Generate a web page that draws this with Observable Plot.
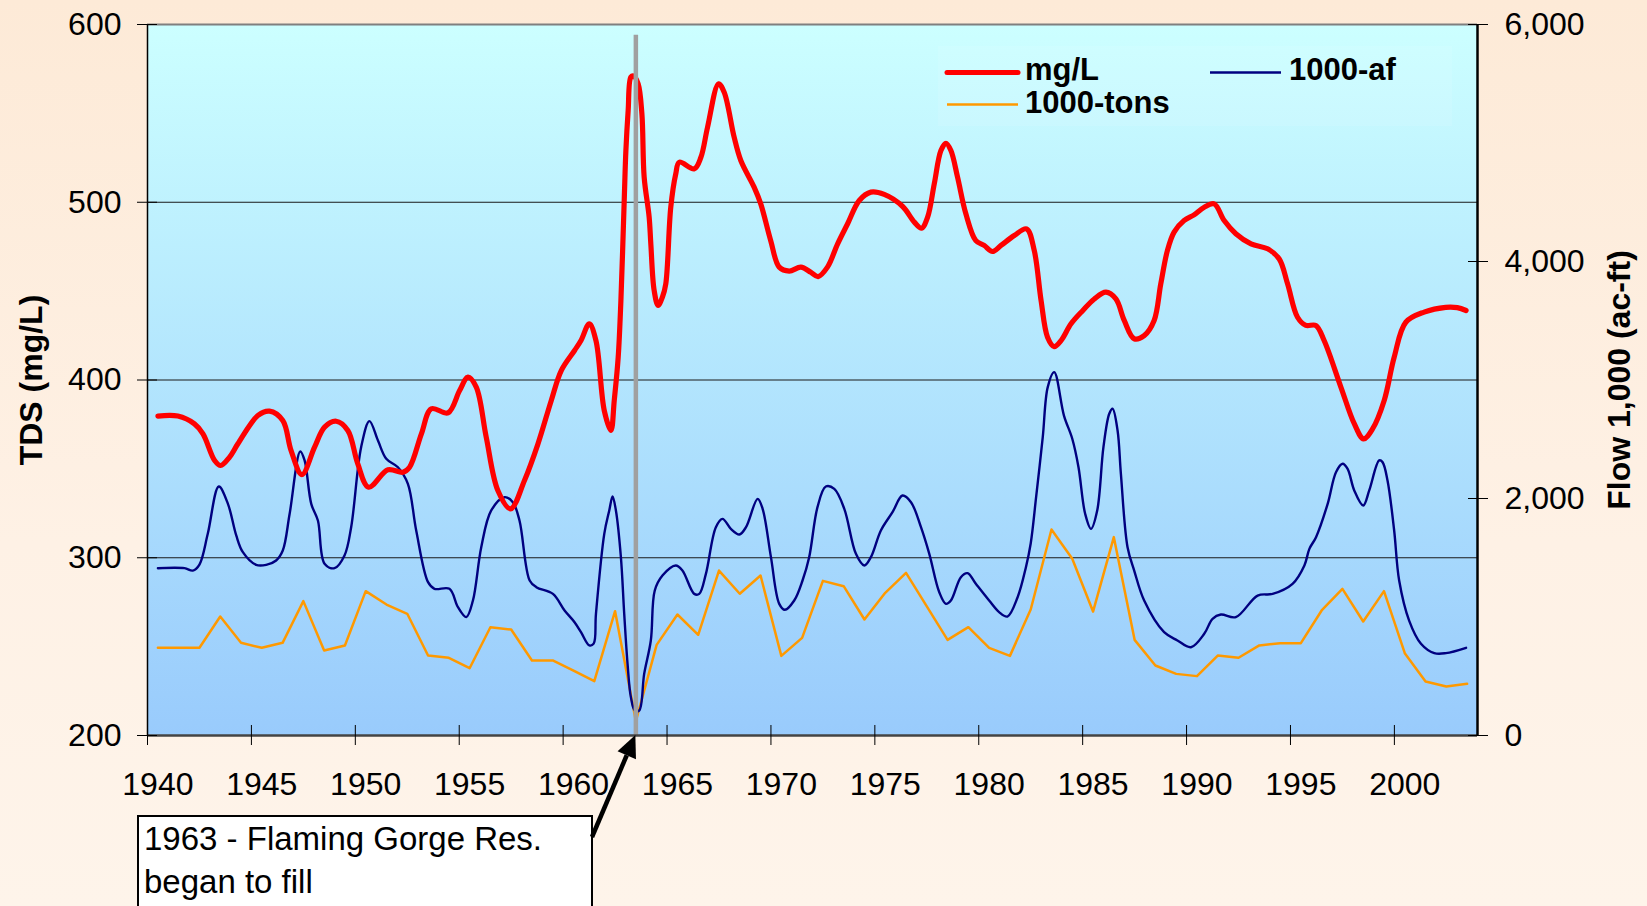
<!DOCTYPE html>
<html>
<head>
<meta charset="utf-8">
<script src="https://cdn.jsdelivr.net/npm/d3@7"></script>
<script src="https://cdn.jsdelivr.net/npm/@observablehq/plot@0.6"></script>
<style>
html, body { margin: 0; padding: 0; width: 1647px; height: 906px; overflow: hidden; }
body { background: linear-gradient(180deg, #FDEAD7 0%, #FEF1E5 60%, #FEF4EA 100%); font-family: "Liberation Sans", Arial, sans-serif; }
#wrap { position: relative; width: 1647px; height: 906px; }
#wrap svg { position: absolute; left: 0; top: 0; }
.note { position: absolute; left: 137px; top: 815px; width: 456px; height: 140px; background: #fff;
  border: 2px solid #000; box-sizing: border-box; font-size: 33px; line-height: 43px; padding: 0 0 0 5px; color: #000; }
</style>
</head>
<body>
<div id="wrap"></div>
<script>
// ---------- Data ----------
// TDS concentration (mg/L), smoothed series (fractional years)
const tdsYears = [1940.0,1940.96,1941.76,1942.17,1942.73,1943.02,1943.45,1943.85,1944.81,1945.37,1946.01,1946.41,1946.93,1947.54,1948.02,1948.58,1949.14,1949.62,1950.14,1951.07,1951.79,1952.11,1952.68,1953.16,1953.96,1954.52,1954.92,1955.32,1955.8,1956.36,1956.97,1957.64,1958.29,1958.93,1959.41,1960.05,1960.36,1960.76,1961.08,1961.48,1961.8,1961.96,1962.15,1962.28,1962.44,1962.52,1962.63,1962.76,1962.89,1963.11,1963.29,1963.4,1963.64,1963.72,1963.88,1964.07,1964.28,1964.44,1964.68,1964.92,1965.09,1965.81,1966.13,1966.45,1966.98,1967.25,1967.73,1968.05,1968.69,1969.01,1969.49,1969.9,1970.38,1970.94,1971.42,1971.77,1972.22,1972.71,1973.19,1973.75,1974.31,1974.95,1975.84,1976.4,1976.75,1977.04,1977.36,1977.68,1977.92,1978.16,1978.48,1978.88,1979.36,1979.76,1980.16,1980.57,1981.21,1981.8,1982.17,1982.5,1982.81,1983.13,1983.46,1983.94,1984.5,1985.06,1985.62,1986.1,1986.5,1986.98,1987.46,1987.94,1988.26,1988.58,1988.9,1989.38,1989.86,1990.35,1990.83,1991.31,1991.87,1992.6,1993.4,1993.96,1994.36,1994.84,1995.24,1995.72,1996.12,1996.93,1997.57,1998.02,1998.45,1999.01,1999.49,2000.05,2000.93,2001.97,2002.53,2002.95];
const tdsValues = [379.7,379.7,375.3,369.7,354.7,351.9,356.6,364.1,380,382.5,377.2,360.3,346.8,362.2,373.5,376.8,371.6,352.8,339.7,349.5,348.1,350.9,369.7,383.8,381.5,394.1,401.6,396,367.8,337.8,327.5,343.5,364.1,388.5,405.3,416.6,422.2,431.6,422.2,382.8,371.6,388.5,412.8,444.7,501,529.1,551.6,570.4,571,566.6,549.8,514.1,491.6,476.6,450.4,442,446.7,454.1,497.2,516,522.5,518.8,525.3,542.2,566.6,561.9,536.6,523.5,508.5,499.1,478.4,463.5,461.3,463.5,460.6,458.2,463.5,476.6,487.9,501,505.7,504.4,497.6,488.8,485.4,491.6,510.4,529.1,533.2,529.1,514.1,493.5,478.4,475.7,472.3,475.7,481.3,485,472.9,444.7,424.1,418.8,422.2,431.6,439,445.6,449.4,445.6,433.5,423.2,425,433.5,454.1,472.9,483.2,489.7,492.9,497.2,499.1,489.7,482.3,476.6,473.8,468.1,454.1,435.3,430.7,430.7,422.2,395.9,375.4,366.9,372.5,388.5,412.8,432.5,438.2,440.9,440.7,439.1];

// Flow (1000 acre-feet), smoothed series (fractional years)
const flowYears = [1940.0,1941.28,1941.68,1942.0,1942.4,1942.93,1943.37,1943.77,1944.09,1944.73,1945.21,1945.69,1946.01,1946.34,1946.85,1947.06,1947.38,1947.7,1948.02,1948.5,1948.98,1949.3,1949.78,1950.18,1950.59,1950.99,1951.55,1952.03,1952.43,1953.0,1953.31,1954.03,1954.44,1954.84,1955.16,1955.56,1956.04,1956.68,1957.08,1957.4,1957.89,1958.21,1959.01,1959.57,1960.05,1960.36,1960.76,1960.97,1961.08,1961.48,1961.72,1961.88,1962.04,1962.28,1962.44,1962.6,1962.76,1962.95,1963.16,1963.4,1963.72,1963.91,1964.28,1964.92,1965.24,1965.81,1966.05,1966.37,1966.85,1967.17,1967.57,1967.98,1968.3,1968.86,1969.1,1969.5,1969.9,1970.17,1970.62,1971.02,1971.34,1971.74,1972.14,1972.55,1973.03,1973.59,1973.99,1974.31,1974.79,1975.35,1975.83,1976.24,1976.72,1977.12,1977.6,1977.92,1978.16,1978.64,1978.96,1979.36,1980.0,1980.48,1980.88,1981.37,1981.77,1982.0,1982.26,1982.58,1982.82,1983.13,1983.6,1984.0,1984.3,1984.62,1984.9,1985.2,1985.5,1985.78,1985.94,1986.18,1986.34,1986.66,1986.98,1987.46,1988.42,1989.06,1989.71,1990.35,1990.75,1991.15,1991.87,1992.92,1993.64,1994.6,1995.17,1995.41,1995.73,1996.29,1996.69,1997.01,1997.25,1997.57,1998.0,1998.29,1998.77,1998.93,1999.17,1999.49,1999.73,2000.21,2000.78,2001.42,2001.98,2002.95];
const flowValues = [1412,1412,1392,1443,1702,2101,1955,1688,1547,1440,1440,1477,1561,1871,2397,2321,1955,1814,1449,1412,1519,1758,2433,2653,2489,2335,2264,2124,1730,1294,1238,1238,1083,999,1139,1589,1899,2011,1969,1814,1308,1252,1195,1055,956,872,760,775,1027,1702,1899,2017,1899,1505,1027,605,324,211,211,520,802,1224,1350,1435,1392,1195,1195,1364,1758,1828,1744,1696,1758,1997,1913,1505,1111,1061,1139,1308,1505,1927,2101,2081,1913,1533,1435,1505,1730,1885,2025,1969,1758,1533,1209,1111,1139,1336,1370,1280,1139,1041,1004,1167,1420,1620,2011,2518,2940,3066,2700,2504,2264,1871,1744,1899,2433,2715,2757,2574,2208,1589,1392,1139,872,802,745,858,985,1021,999,1181,1195,1280,1435,1575,1674,1955,2222,2293,2250,2068,1941,2068,2321,2307,2152,1730,1308,970,774,695,695,740];

// Salt load (1000 tons), annual
const loadYears = [1940,1941,1942,1943,1944,1945,1946,1947,1948,1949,1950,1951,1952,1953,1954,1955,1956,1957,1958,1959,1960,1961,1962,1963,1964,1965,1966,1967,1968,1969,1970,1971,1972,1973,1974,1975,1976,1977,1978,1979,1980,1981,1982,1983,1984,1985,1986,1987,1988,1989,1990,1991,1992,1993,1994,1995,1996,1997,1998,1999,2000,2001,2002,2003];
const loadValues = [740,740,740,1004,782,740,782,1134,717,760,1218,1105,1027,675,656,568,914,894,633,633,548,458,1049,120,765,1021,850,1392,1196,1350,672,824,1305,1260,979,1204,1373,1090,807,914,740,672,1063,1738,1491,1046,1674,807,591,520,501,675,656,760,779,779,1055,1238,962,1218,695,456,414,436];

// Axes / labels
const leftTicks = [200, 300, 400, 500, 600];
const rightTicks = [0, 2000, 4000, 6000];
const xLabelYears = [1940, 1945, 1950, 1955, 1960, 1965, 1970, 1975, 1980, 1985, 1990, 1995, 2000];
const seriesNames = ["mg/L", "1000-af", "1000-tons"];
const seriesColors = ["#FF0000", "#000080", "#FF9900"];
const leftTitle = "TDS (mg/L)";
const rightTitle = "Flow 1,000 (ac-ft)";
const fillYear = 1963;
const fillLineTop = 594;
const noteLines = ["1963 - Flaming Gorge Res.", "began to fill"];

// ---------- Build ----------
const leftMin = 200, leftMax = 600, rightMax = 6000;
const toLeft = f => leftMin + f * (leftMax - leftMin) / rightMax;
const fromLeft = v => (v - leftMin) * rightMax / (leftMax - leftMin);

const tds = tdsYears.map((y, i) => ({year: y, v: tdsValues[i]}));
const flow = flowYears.map((y, i) => ({year: y, v: toLeft(flowValues[i])}));
const load = loadYears.map((y, i) => ({year: y, v: toLeft(loadValues[i])}));
const xTickYears = xLabelYears.map(y => y - 0.5);
const font = "'Liberation Sans', Arial, sans-serif";

const plot = Plot.plot({
  width: 1647,
  height: 906,
  marginLeft: 147,
  marginRight: 170,
  marginTop: 24,
  marginBottom: 171,
  style: {fontFamily: font, fontSize: "32px", background: "transparent", overflow: "visible", color: "#000"},
  x: {domain: [1939.5, 2003.5], label: null},
  y: {domain: [leftMin, leftMax], label: null},
  marks: [
    Plot.frame({fill: "url(#plotbg)", stroke: null}),
    Plot.ruleY([300, 400, 500], {stroke: "#1a1a1a", strokeWidth: 1}),
    Plot.ruleY([leftMax], {stroke: "#7f7f7f", strokeWidth: 2}),
    Plot.line(load, {x: "year", y: "v", stroke: seriesColors[2], strokeWidth: 2.5}),
    Plot.line(flow, {x: "year", y: "v", curve: "catmull-rom", stroke: seriesColors[1], strokeWidth: 2.4}),
    Plot.line(tds, {x: "year", y: "v", curve: "catmull-rom", stroke: seriesColors[0], strokeWidth: 5.2, strokeLinejoin: "round", strokeLinecap: "round"}),
    Plot.ruleX([fillYear], {y1: leftMin, y2: fillLineTop, stroke: "#a0a0a0", strokeWidth: 4.5}),
    Plot.ruleY([leftMin], {stroke: "#444", strokeWidth: 2.5}),
    Plot.ruleX([1939.5], {stroke: "#000", strokeWidth: 1.5}),
    Plot.ruleX([2003.5], {stroke: "#000", strokeWidth: 2.5}),
    // left axis
    Plot.axisY(leftTicks, {anchor: "left", tickSize: 0, tickPadding: 26, fontSize: 32}),
    Plot.axisY(leftTicks, {anchor: "left", tickSize: 20, dx: 10, tickFormat: () => "", stroke: "#000"}),
    // right axis (flow / load)
    Plot.axisY(rightTicks.map(toLeft), {anchor: "right", tickSize: 0, tickPadding: 27, fontSize: 32,
      tickFormat: v => d3.format(",")(Math.round(fromLeft(v)))}),
    Plot.axisY(rightTicks.map(toLeft), {anchor: "right", tickSize: 20, dx: -10, tickFormat: () => "", stroke: "#000"}),
    // x axis
    Plot.axisX(xLabelYears, {anchor: "bottom", tickSize: 0, tickPadding: 37, fontSize: 32, tickFormat: d => String(d)}),
    Plot.axisX(xTickYears, {anchor: "bottom", tickSize: 20, dy: -10, tickFormat: () => "", stroke: "#000"}),
    // titles
    Plot.text([leftTitle], {text: d => d, frameAnchor: "left", textAnchor: "middle", lineAnchor: "middle", dx: -116, rotate: -90, fontSize: 32, fontWeight: "bold", fill: "#000"}),
    Plot.text([rightTitle], {text: d => d, frameAnchor: "right", textAnchor: "middle", lineAnchor: "middle", dx: 142, rotate: -90, fontSize: 32, fontWeight: "bold", fill: "#000"})
  ]
});

const wrap = document.getElementById("wrap");
wrap.appendChild(plot);

// gradient definition
const svg = d3.select(plot);
const defs = svg.insert("defs", ":first-child");
const grad = defs.append("linearGradient").attr("id", "plotbg").attr("x1", 0).attr("y1", 0).attr("x2", 0).attr("y2", 1);
grad.append("stop").attr("offset", "0%").attr("stop-color", "#CCFFFF");
grad.append("stop").attr("offset", "100%").attr("stop-color", "#99CBFC");

// legend (inside plot area, top right)
const lg = svg.append("g").attr("font-family", font).attr("font-weight", "bold").attr("font-size", 31).attr("text-anchor", "start");
lg.append("rect").attr("x", 938).attr("y", 46).attr("width", 514).attr("height", 80).attr("fill", "#fff").attr("fill-opacity", 0.09);
const legendItems = [
  {x: 947, y: 72.5, w: 5, tx: 1025, ty: 80, i: 0},
  {x: 1210, y: 72.5, w: 2.4, tx: 1289, ty: 80, i: 1},
  {x: 947, y: 104.5, w: 2.5, tx: 1025, ty: 113, i: 2}
];
legendItems.forEach(d => {
  lg.append("line").attr("x1", d.x).attr("x2", d.x + 71).attr("y1", d.y).attr("y2", d.y)
    .attr("stroke", seriesColors[d.i]).attr("stroke-width", d.w).attr("stroke-linecap", d.i === 0 ? "round" : "butt");
  lg.append("text").attr("x", d.tx).attr("y", d.ty).attr("fill", "#000").attr("text-anchor", "start").text(seriesNames[d.i]);
});

// annotation box
const note = document.createElement("div");
note.className = "note";
note.innerHTML = noteLines.map(t => `<div>${t}</div>`).join("");
wrap.appendChild(note);

// arrow from the box corner to the start of filling (uses Plot scales)
const sx = plot.scale("x"), sy = plot.scale("y");
const tipX = sx.apply(fillYear), tipY = sy.apply(leftMin);
const tailX = 137 + 456 - 1, tailY = 837;
const ang = Math.atan2(tipY - tailY, tipX - tailX);
const headLen = 22, headW = 10;
const bx = tipX - headLen * Math.cos(ang), by = tipY - headLen * Math.sin(ang);
const px = -Math.sin(ang) * headW, py = Math.cos(ang) * headW;
const arrow = d3.select(wrap).append("svg").attr("width", 1647).attr("height", 906).style("pointer-events", "none");
arrow.append("line").attr("x1", tailX).attr("y1", tailY).attr("x2", bx).attr("y2", by)
  .attr("stroke", "#000").attr("stroke-width", 4.5);
arrow.append("path").attr("d", `M${tipX},${tipY}L${bx + px},${by + py}L${bx - px},${by - py}Z`).attr("fill", "#000");
</script>
</body>
</html>
